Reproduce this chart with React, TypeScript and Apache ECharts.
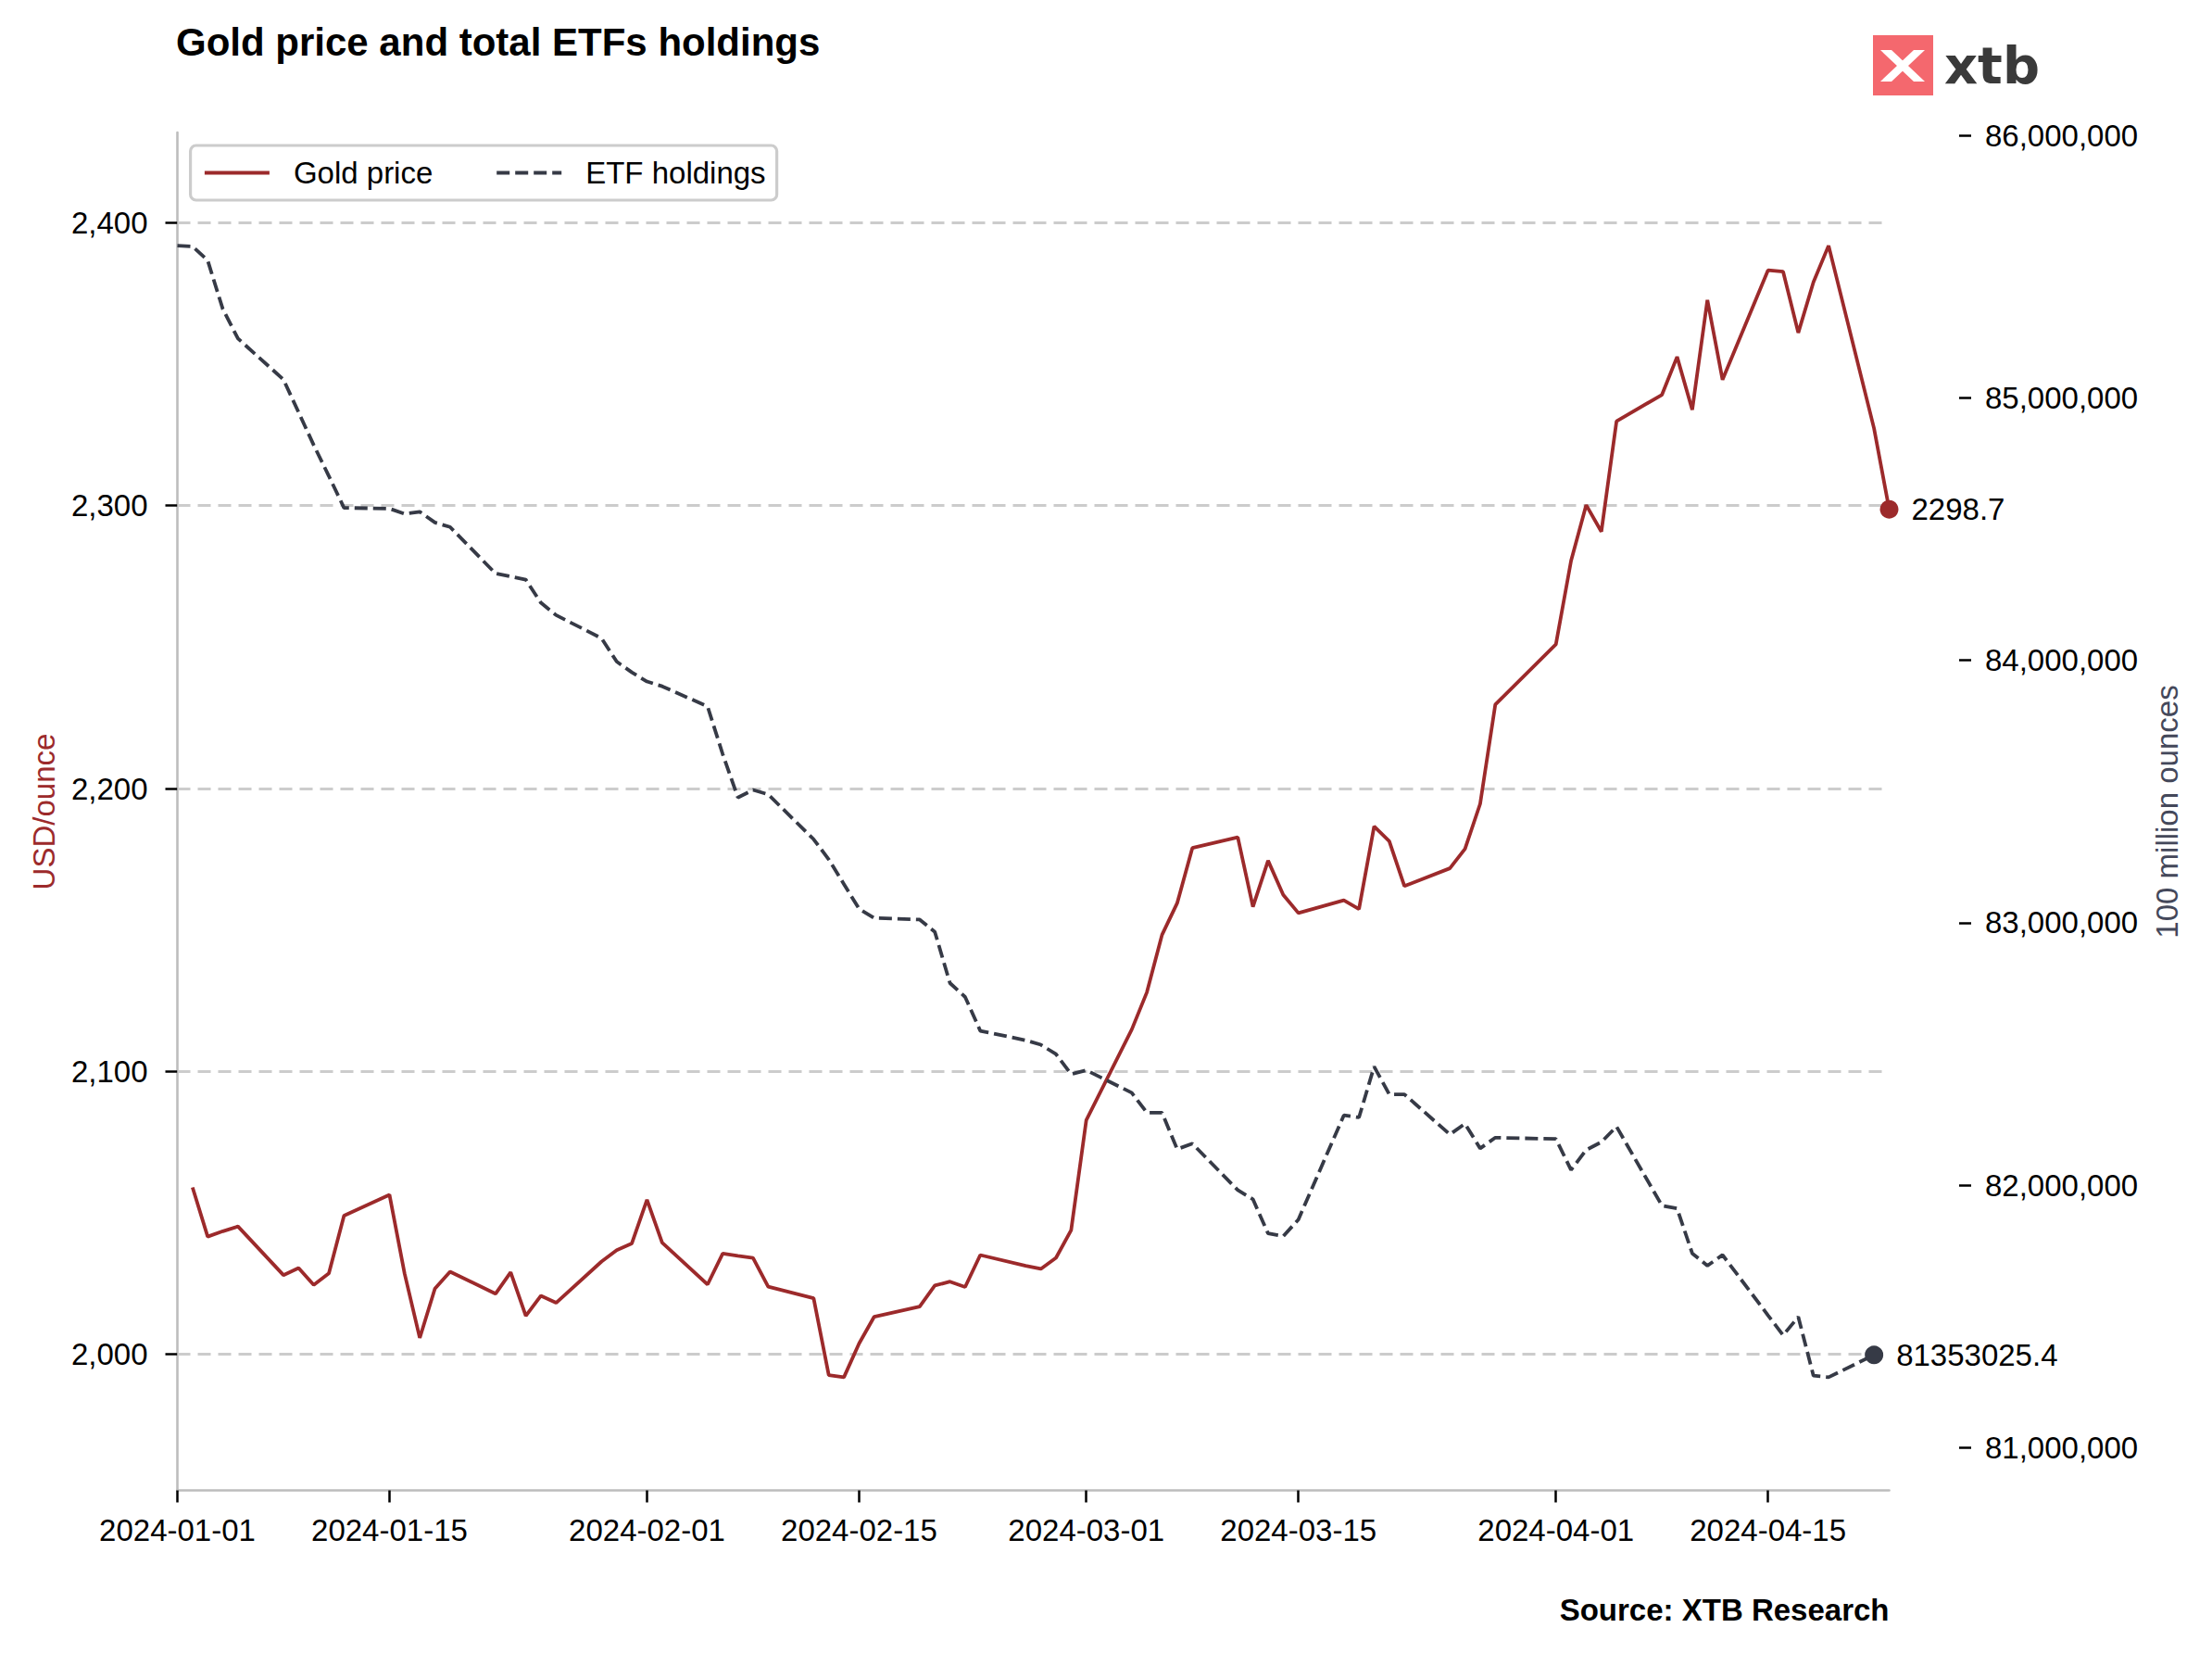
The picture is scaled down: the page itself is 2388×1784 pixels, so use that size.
import React, { useEffect, useRef } from "react";
import * as echarts from "echarts";

const goldDates = [
  "2024-01-02","2024-01-03","2024-01-04","2024-01-05","2024-01-08","2024-01-09","2024-01-10","2024-01-11","2024-01-12","2024-01-15","2024-01-16","2024-01-17","2024-01-18","2024-01-19","2024-01-22","2024-01-23","2024-01-24","2024-01-25","2024-01-26","2024-01-29","2024-01-30","2024-01-31",
  "2024-02-01","2024-02-02","2024-02-05","2024-02-06","2024-02-07","2024-02-08","2024-02-09","2024-02-12","2024-02-13","2024-02-14","2024-02-15","2024-02-16","2024-02-19","2024-02-20","2024-02-21","2024-02-22","2024-02-23","2024-02-26","2024-02-27","2024-02-28","2024-02-29",
  "2024-03-01","2024-03-04","2024-03-05","2024-03-06","2024-03-07","2024-03-08","2024-03-11","2024-03-12","2024-03-13","2024-03-14","2024-03-15","2024-03-18","2024-03-19","2024-03-20","2024-03-21","2024-03-22","2024-03-25","2024-03-26","2024-03-27","2024-03-28",
  "2024-04-01","2024-04-02","2024-04-03","2024-04-04","2024-04-05","2024-04-08","2024-04-09","2024-04-10","2024-04-11","2024-04-12","2024-04-15","2024-04-16","2024-04-17","2024-04-18","2024-04-19","2024-04-22","2024-04-23",
];
const goldPrices = [
  2059.0, 2041.6, 2043.5, 2045.2, 2028.0, 2030.5, 2024.5, 2028.6, 2049.0, 2056.4, 2028.5, 2005.8, 2023.2, 2029.2, 2021.4, 2029.0, 2013.6, 2020.7, 2018.2, 2032.8, 2036.8, 2039.2,
  2054.6, 2039.5, 2024.7, 2035.6, 2034.8, 2034.1, 2023.9, 2019.8, 1992.6, 1991.9, 2003.8, 2013.3, 2016.9, 2024.3, 2025.7, 2023.8, 2035.1, 2031.3, 2030.2, 2034.1, 2043.9,
  2082.8, 2114.8, 2128.0, 2148.3, 2159.5, 2179.0, 2182.8, 2158.2, 2174.5, 2162.4, 2156.0, 2160.5, 2157.4, 2186.6, 2181.4, 2165.5, 2171.8, 2178.7, 2194.6, 2229.7,
  2251.0, 2280.5, 2300.2, 2290.8, 2329.8, 2339.2, 2352.6, 2333.9, 2372.7, 2344.5, 2383.2, 2382.7, 2361.1, 2379.0, 2391.9, 2327.3, 2298.7,
];

const etfDates = [
  "2024-01-01","2024-01-02","2024-01-03","2024-01-04","2024-01-05","2024-01-08","2024-01-09","2024-01-10","2024-01-11","2024-01-12","2024-01-15","2024-01-16","2024-01-17","2024-01-18","2024-01-19","2024-01-22","2024-01-23","2024-01-24","2024-01-25","2024-01-26","2024-01-29","2024-01-30","2024-01-31",
  "2024-02-01","2024-02-02","2024-02-05","2024-02-06","2024-02-07","2024-02-08","2024-02-09","2024-02-12","2024-02-13","2024-02-14","2024-02-15","2024-02-16","2024-02-19","2024-02-20","2024-02-21","2024-02-22","2024-02-23","2024-02-26","2024-02-27","2024-02-28","2024-02-29",
  "2024-03-01","2024-03-04","2024-03-05","2024-03-06","2024-03-07","2024-03-08","2024-03-11","2024-03-12","2024-03-13","2024-03-14","2024-03-15","2024-03-18","2024-03-19","2024-03-20","2024-03-21","2024-03-22","2024-03-25","2024-03-26","2024-03-27","2024-03-28",
  "2024-04-01","2024-04-02","2024-04-03","2024-04-04","2024-04-05","2024-04-08","2024-04-09","2024-04-10","2024-04-11","2024-04-12","2024-04-15","2024-04-16","2024-04-17","2024-04-18","2024-04-19","2024-04-22",
];
const etfHoldings = [
  85580000, 85577000, 85524000, 85338000, 85226000, 85070000, 84945000, 84820000, 84702000, 84581000, 84578000, 84558000, 84566000, 84525000, 84508000, 84331000, 84319000, 84307000, 84219000, 84172000, 84084000, 83995000, 83954000,
  83919000, 83901000, 83824000, 83642000, 83477000, 83506000, 83489000, 83318000, 83241000, 83147000, 83053000, 83018000, 83012000, 82965000, 82770000, 82717000, 82588000, 82552000, 82535000, 82499000, 82423000,
  82438000, 82352000, 82276000, 82276000, 82137000, 82158000, 81981000, 81946000, 81816000, 81805000, 81869000, 82266000, 82258000, 82452000, 82346000, 82346000, 82193000, 82234000, 82140000, 82181000,
  82176000, 82058000, 82134000, 82164000, 82223000, 81922000, 81911000, 81740000, 81693000, 81734000, 81504000, 81428000, 81498000, 81274000, 81268000, 81353025.4,
];

const xTickLabels = ["2024-01-01","2024-01-15","2024-02-01","2024-02-15","2024-03-01","2024-03-15","2024-04-01","2024-04-15"];
const xStart = "2024-01-01";
const xEnd = "2024-04-23";
const leftTicks = [2000, 2100, 2200, 2300, 2400];
const rightTicks = [81000000, 82000000, 83000000, 84000000, 85000000, 86000000];

const GOLD = "#9c2a2b";
const ETF = "#363a46";
const FONT = "'Liberation Sans', Arial, sans-serif";

const ts = (s: string) => {
  const [y, m, d] = s.split("-").map(Number);
  return new Date(y, m - 1, d).getTime();
};
const pad2 = (n: number) => (n < 10 ? "0" + n : "" + n);
const fmtDate = (v: number) => {
  const d = new Date(v);
  return `${d.getFullYear()}-${pad2(d.getMonth() + 1)}-${pad2(d.getDate())}`;
};
const fmtThousands = (v: number) => Math.round(v).toString().replace(/\B(?=(\d{3})+(?!\d))/g, ",");

export default function App() {
  const ref = useRef<HTMLDivElement>(null);
  useEffect(() => {
    if (!ref.current) return;
    const chart = echarts.init(ref.current, undefined, { renderer: "svg" });

    const gMin = Math.min(...goldPrices), gMax = Math.max(...goldPrices);
    const gPad = (gMax - gMin) * 0.1;
    const eMin = Math.min(...etfHoldings), eMax = Math.max(...etfHoldings);
    const ePad = (eMax - eMin) * 0.1;

    const goldData = goldDates.map((d, i) => [ts(d), goldPrices[i]]);
    const etfData = etfDates.map((d, i) => [ts(d), etfHoldings[i]]);
    const gl = goldData.length - 1;
    const el = etfData.length - 1;

    const tickStyle = { color: "#000", width: 2.5 };
    const labelStyle = { fontSize: 33, color: "#000", fontFamily: FONT };

    const x0 = 2022, y0 = 38;
    chart.setOption({
      animation: false,
      backgroundColor: "#ffffff",
      textStyle: { fontFamily: FONT },
      grid: { left: 191.5, right: 348.5, top: 143, bottom: 175.5 },
      legend: {
        left: 205.6,
        top: 157,
        orient: "horizontal",
        padding: [13, 12, 13, 13.4],
        itemWidth: 70,
        itemHeight: 14,
        itemGap: 67,
        borderColor: "#cccccc",
        borderWidth: 3.2,
        borderRadius: 6,
        backgroundColor: "#ffffff",
        itemStyle: { opacity: 0 },
        lineStyle: { width: 3.8 },
        textStyle: { fontSize: 33, color: "#000", fontFamily: FONT, padding: [0, 0, 0, 21] },
        data: ["Gold price", "ETF holdings"],
      },
      xAxis: {
        type: "value",
        min: ts(xStart),
        max: ts(xEnd),
        scale: true,
        axisLine: { show: true, onZero: false, lineStyle: { color: "#bdbdbd", width: 2.6 } },
        axisTick: { show: true, length: 13, lineStyle: tickStyle, customValues: xTickLabels.map(ts) },
        axisLabel: {
          ...labelStyle,
          margin: 26,
          customValues: xTickLabels.map(ts),
          formatter: (v: number) => fmtDate(v),
        },
        splitLine: { show: false },
      },
      yAxis: [
        {
          type: "value",
          position: "left",
          min: gMin - gPad,
          max: gMax + gPad,
          axisLine: { show: true, onZero: false, lineStyle: { color: "#bdbdbd", width: 2.6 } },
          axisTick: { show: true, length: 13, lineStyle: tickStyle, customValues: leftTicks },
          axisLabel: { ...labelStyle, margin: 32, customValues: leftTicks, formatter: (v: number) => fmtThousands(v) },
          splitLine: { show: false },
        },
        {
          type: "value",
          position: "right",
          offset: 75.5,
          min: eMin - ePad,
          max: eMax + ePad,
          axisLine: { show: false, onZero: false },
          axisTick: { show: true, length: 13, lineStyle: tickStyle, customValues: rightTicks },
          axisLabel: { ...labelStyle, margin: 28, customValues: rightTicks, formatter: (v: number) => fmtThousands(v) },
          splitLine: { show: false },
        },
      ],
      series: [
        {
          type: "line",
          name: "Gold price",
          data: goldData,
          yAxisIndex: 0,
          symbol: "none",
          z: 3,
          lineStyle: { color: GOLD, width: 3.8 },
          itemStyle: { color: GOLD },
          markLine: {
            silent: true,
            z: 1,
            symbol: ["none", "none"],
            label: { show: false },
            lineStyle: { color: "#cccccc", width: 2.8, type: [14, 8] },
            data: leftTicks.map((v) => ({ yAxis: v })),
          },
        },
        {
          type: "line",
          name: "ETF holdings",
          data: etfData,
          yAxisIndex: 1,
          symbol: "none",
          z: 3,
          lineStyle: { color: ETF, width: 3.8, type: [14, 6] },
          itemStyle: { color: ETF },
        },
        {
          type: "scatter",
          name: "goldEnd",
          data: [goldData[gl]],
          yAxisIndex: 0,
          symbolSize: 20,
          z: 4,
          itemStyle: { color: GOLD, opacity: 1 },
          label: {
            show: true,
            position: "right",
            distance: 14,
            fontSize: 33,
            color: "#000",
            fontFamily: FONT,
            formatter: (p: any) => String(p.value[1]),
          },
        },
        {
          type: "scatter",
          name: "etfEnd",
          data: [etfData[el]],
          yAxisIndex: 1,
          symbolSize: 20,
          z: 4,
          itemStyle: { color: ETF, opacity: 1 },
          label: {
            show: true,
            position: "right",
            distance: 14,
            fontSize: 33,
            color: "#000",
            fontFamily: FONT,
            formatter: (p: any) => String(p.value[1]),
          },
        },
      ],
      graphic: [
        {
          type: "text",
          x: 190,
          y: 45,
          style: {
            text: "Gold price and total ETFs holdings",
            fontSize: 42,
            fontWeight: "bold",
            fontFamily: FONT,
            fill: "#000",
            align: "left",
            verticalAlign: "middle",
          },
        },
        {
          type: "text",
          x: 47,
          y: 876,
          rotation: Math.PI / 2,
          style: {
            text: "USD/ounce",
            fontSize: 33,
            fontFamily: FONT,
            fill: GOLD,
            align: "center",
            verticalAlign: "middle",
          },
        },
        {
          type: "text",
          x: 2339,
          y: 876,
          rotation: Math.PI / 2,
          style: {
            text: "100 million ounces",
            fontSize: 33,
            fontFamily: FONT,
            fill: "#44485a",
            align: "center",
            verticalAlign: "middle",
          },
        },
        {
          type: "text",
          x: 2039.5,
          y: 1737,
          style: {
            text: "Source: XTB Research",
            fontSize: 33,
            fontWeight: "bold",
            fontFamily: FONT,
            fill: "#000",
            align: "right",
            verticalAlign: "middle",
          },
        },
        {
          type: "rect",
          shape: { x: x0, y: y0, width: 65, height: 65 },
          style: { fill: "#f4686e" },
        },
        {
          type: "polygon",
          shape: { points: [[x0 + 8, y0 + 16], [x0 + 20, y0 + 16], [x0 + 56, y0 + 50], [x0 + 44, y0 + 50]] },
          style: { fill: "#ffffff" },
        },
        {
          type: "polygon",
          shape: { points: [[x0 + 44, y0 + 16], [x0 + 56, y0 + 16], [x0 + 20, y0 + 50], [x0 + 8, y0 + 50]] },
          style: { fill: "#ffffff" },
        },
        {
          type: "text",
          x: 2099,
          y: 70,
          style: {
            text: "xtb",
            fontSize: 56,
            fontWeight: "bold",
            fontFamily: "'DejaVu Sans', sans-serif",
            fill: "#3a3a3a",
            align: "left",
            verticalAlign: "middle",
          },
        },
      ],
    });
    return () => chart.dispose();
  }, []);
  return <div ref={ref} style={{ position: "absolute", left: 0, top: 0, width: 2388, height: 1784 }} />;
}
